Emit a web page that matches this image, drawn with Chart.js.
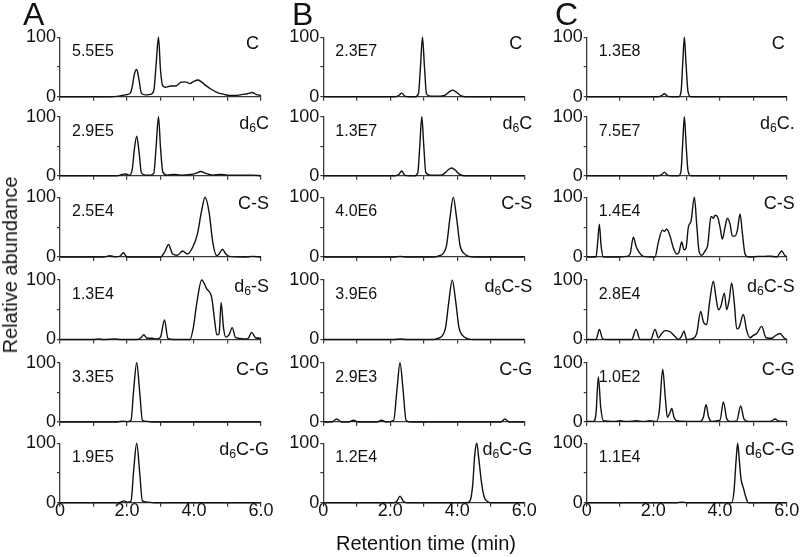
<!DOCTYPE html>
<html><head><meta charset="utf-8">
<script src="https://cdn.jsdelivr.net/npm/chart.js@4.4.1/dist/chart.umd.min.js"></script>
<style>
html,body{margin:0;padding:0;background:#fff;}
#wrap{position:relative;width:800px;height:557px;overflow:hidden;background:#fff;font-family:"Liberation Sans",Arial,sans-serif;color:#111;}
#wrap canvas{position:absolute;left:0;top:0;}
.t{position:absolute;white-space:nowrap;}
.t sub{font-size:0.68em;vertical-align:-0.28em;line-height:0;}
</style></head>
<body><div id="wrap"></div>
<script>
// ---------- data ----------
const columns = ['A','B','C'];
const rowLabels = [
  ['C','d<sub>6</sub>C','C-S','d<sub>6</sub>-S','C-G','d<sub>6</sub>C-G'],
  ['C','d<sub>6</sub>C','C-S','d<sub>6</sub>C-S','C-G','d<sub>6</sub>C-G'],
  ['C','d<sub>6</sub>C.','C-S','d<sub>6</sub>C-S','C-G','d<sub>6</sub>C-G']
];
const intensities = [
  ['5.5E5','2.9E5','2.5E4','1.3E4','3.3E5','1.9E5'],
  ['2.3E7','1.3E7','4.0E6','3.9E6','2.9E3','1.2E4'],
  ['1.3E8','7.5E7','1.4E4','2.8E4','1.0E2','1.1E4']
];
const xTickVals = [0, 2, 4, 6];
const xTickText = ['0', '2.0', '4.0', '6.0'];
const yTickVals = [0, 100];
const yTickText = ['0', '100'];

// traces: [retention time (min), relative abundance]
const A_C = [[0,0],[1.5,0],[1.75,1],[1.95,3],[2.1,6],[2.16,18],[2.22,38],[2.29,46],[2.36,28],[2.43,6],[2.55,3],[2.7,4],[2.8,10],[2.87,55],[2.94,100],[3.0,45],[3.07,18],[3.15,16],[3.3,18],[3.45,18],[3.6,24],[3.72,25],[3.8,24],[3.88,22],[3.97,25],[4.12,28],[4.22,25],[4.35,19],[4.5,13],[4.7,7],[4.9,4],[5.05,2],[5.25,2],[5.45,4],[5.6,5],[5.74,7],[5.85,4],[6.0,2]];
const A_d6C = [[0,0],[1.7,0],[1.85,2],[1.96,3],[2.08,1],[2.16,12],[2.22,45],[2.29,67],[2.36,40],[2.43,5],[2.55,1],[2.7,1],[2.8,4],[2.87,50],[2.94,100],[3.0,48],[3.07,6],[3.2,1],[3.4,2],[3.6,1],[3.9,2],[4.05,4],[4.2,7],[4.35,4],[4.55,1],[4.8,2],[5.0,1],[5.3,1],[5.5,1],[5.75,1],[6.0,0]];
const A_CS = [[0,0],[1.3,0],[1.49,2],[1.62,0.5],[1.78,1],[1.89,7],[2.0,0],[2.5,0],[3.0,0],[3.12,8],[3.24,21],[3.36,5],[3.5,3],[3.66,10],[3.8,5],[3.95,15],[4.1,38],[4.22,75],[4.33,100],[4.45,75],[4.56,25],[4.68,2],[4.76,6],[4.85,13],[4.95,5],[5.05,1],[5.5,0],[5.74,1],[6.0,0]];
const A_d6S = [[0,0],[1.0,0],[1.16,1],[1.3,0],[1.66,1],[1.8,0],[2.3,0],[2.42,3],[2.5,8],[2.6,2],[2.75,2],[2.9,1],[3.0,4],[3.12,33],[3.22,2],[3.4,0],[3.7,0],[3.88,0],[3.98,20],[4.08,60],[4.23,100],[4.38,85],[4.53,70],[4.62,30],[4.68,8],[4.75,10],[4.81,62],[4.88,20],[4.95,4],[5.05,8],[5.14,20],[5.24,3],[5.5,1],[5.62,2],[5.72,12],[5.84,3],[6.0,2]];
const A_CG = [[0,0],[1.7,0],[1.89,1.5],[2.0,0.5],[2.12,3],[2.2,55],[2.29,100],[2.38,50],[2.46,3],[2.6,1],[2.8,0],[6.0,0]];
const A_d6CG = [[0,0],[1.75,0],[1.91,3],[2.02,1],[2.12,3],[2.2,55],[2.29,100],[2.38,50],[2.46,3],[2.6,1],[2.8,0],[6.0,0]];

const B_C = [[0,0],[2.15,0],[2.25,2],[2.34,6],[2.43,1],[2.55,0],[2.75,0],[2.84,5],[2.9,50],[2.96,100],[3.02,50],[3.08,5],[3.2,1],[3.5,1],[3.65,3],[3.76,8],[3.86,11],[3.96,8],[4.1,2],[4.25,0],[6.0,0]];
const B_d6C = [[0,0],[2.15,0],[2.25,2],[2.34,8],[2.43,1],[2.55,0],[2.74,0],[2.82,5],[2.88,50],[2.94,100],[3.0,50],[3.06,5],[3.2,1],[3.5,1],[3.62,4],[3.73,10],[3.83,13],[3.93,10],[4.05,3],[4.2,0],[6.0,0]];
const B_CS = [[0,0],[2.1,0],[2.29,1],[2.5,0],[3.3,0],[3.45,2],[3.58,6],[3.68,20],[3.78,65],[3.88,100],[3.98,65],[4.08,20],[4.2,6],[4.35,1],[4.5,0],[6.0,0]];
const B_d6CS = [[0,0],[2.1,0],[2.29,1],[2.5,0],[3.3,0],[3.42,2],[3.55,6],[3.65,20],[3.75,65],[3.85,100],[3.95,65],[4.05,20],[4.17,6],[4.32,1],[4.5,0],[6.0,0]];
const B_CG = [[0,0],[0.25,0],[0.4,5],[0.55,0],[0.75,0],[0.9,3],[1.05,0],[1.6,0],[1.74,3],[1.88,0],[2.1,3],[2.2,55],[2.29,100],[2.38,55],[2.47,3],[2.6,0],[4.5,0],[5.3,0],[5.42,5],[5.55,0],[6.0,0]];
const B_d6CG = [[0,0],[2.1,0],[2.2,3],[2.29,11],[2.38,3],[2.5,0],[4.3,0],[4.38,3],[4.46,30],[4.52,80],[4.58,100],[4.64,75],[4.72,35],[4.8,10],[4.9,2],[5.0,0],[6.0,0]];

const C_C = [[0,0],[2.15,0],[2.25,2],[2.33,5],[2.42,1],[2.55,0],[2.76,0],[2.83,8],[2.88,55],[2.93,100],[2.98,55],[3.04,8],[3.12,0],[6.0,0]];
const C_d6C = [[0,0],[2.15,0],[2.25,2],[2.33,6],[2.42,1],[2.55,0],[2.76,0],[2.83,8],[2.88,55],[2.93,100],[2.98,55],[3.04,8],[3.12,0],[6.0,0]];
const C_CS = [[0,0],[0.28,0],[0.33,25],[0.38,55],[0.43,20],[0.5,0],[0.9,0],[1.2,1],[1.3,5],[1.4,33],[1.48,18],[1.57,8],[1.7,1],[2.05,0],[2.15,25],[2.27,45],[2.33,43],[2.4,47],[2.5,35],[2.6,15],[2.7,5],[2.77,8],[2.85,25],[2.92,12],[2.98,15],[3.05,50],[3.13,60],[3.23,100],[3.3,55],[3.37,10],[3.45,3],[3.55,10],[3.63,20],[3.73,68],[3.8,65],[3.85,70],[3.92,68],[4.0,50],[4.07,30],[4.15,50],[4.22,65],[4.3,55],[4.37,35],[4.45,35],[4.52,45],[4.6,72],[4.67,40],[4.75,5],[4.85,0],[5.15,1],[5.35,1],[5.5,1.5],[5.7,0],[5.85,10],[5.95,2],[6.0,1]];
const C_d6CS = [[0,0],[0.28,0],[0.38,17],[0.48,1],[0.6,0],[1.35,0],[1.48,17],[1.6,0],[1.92,0],[2.05,17],[2.15,3],[2.25,10],[2.35,15],[2.5,13],[2.65,5],[2.75,0],[2.84,5],[2.92,14],[3.0,0],[3.2,2],[3.3,10],[3.42,47],[3.5,30],[3.6,25],[3.68,60],[3.8,98],[3.88,70],[3.95,50],[4.02,55],[4.13,78],[4.2,50],[4.27,65],[4.35,95],[4.43,60],[4.5,18],[4.57,20],[4.7,42],[4.8,15],[4.9,3],[5.0,7],[5.1,10],[5.25,22],[5.38,3],[5.55,2],[5.65,6],[5.8,10],[5.93,2],[6.0,0]];
const C_CG = [[0,1],[0.2,1],[0.28,15],[0.35,76],[0.42,25],[0.5,2],[0.8,1],[1.0,2],[1.2,1],[1.5,2],[1.7,1],[1.9,2],[2.1,1],[2.18,20],[2.28,89],[2.36,40],[2.42,8],[2.5,16],[2.55,23],[2.62,8],[2.7,2],[3.0,1],[3.4,1],[3.5,8],[3.58,29],[3.66,8],[3.75,1],[4.0,3],[4.1,34],[4.2,6],[4.3,1],[4.5,2],[4.62,27],[4.72,5],[4.85,1],[5.4,1],[5.55,2],[5.65,5],[5.75,2],[6.0,1]];
const C_d6CG = [[0,0],[2.7,0],[2.85,1],[3.0,0],[4.35,0],[4.42,20],[4.48,70],[4.53,100],[4.58,70],[4.63,40],[4.7,25],[4.77,10],[4.85,0],[6.0,0]];

const traces = [
  [A_C, A_d6C, A_CS, A_d6S, A_CG, A_d6CG],
  [B_C, B_d6C, B_CS, B_d6CS, B_CG, B_d6CG],
  [C_C, C_d6C, C_CS, C_d6CS, C_CG, C_d6CG]
];

// ---------- layout ----------
const W = 800, H = 557;
const colL = [60, 323.3, 586.7], colR = [261, 524.3, 786.7];
const rowT = [37.3, 116.7, 197.3, 280, 362.7, 443.3];
const rowB = [96.7, 175.7, 257, 339.5, 422, 502.7];
const YW = 40, XH = 30;
const FONT = '"Liberation Sans", Arial, sans-serif';
const AX = '#3a3a3a';
const wrap = document.getElementById('wrap');

function addText(html, style) {
  const d = document.createElement('div');
  d.className = 't';
  d.innerHTML = html;
  Object.assign(d.style, style);
  wrap.appendChild(d);
  return d;
}

for (let c = 0; c < 3; c++) {
  for (let r = 0; r < 6; r++) {
    const cv = document.createElement('canvas');
    cv.width = W; cv.height = H;
    cv.style.width = W + 'px'; cv.style.height = H + 'px';
    wrap.appendChild(cv);
    const bottom = (r === 5);
    const pts = traces[c][r].map(p => ({x: p[0], y: p[1]}));
    new Chart(cv, {
      type: 'line',
      data: { datasets: [{ data: pts, borderColor: '#111', borderWidth: 1.4, pointRadius: 0,
        cubicInterpolationMode: 'monotone', fill: false, clip: 6 }] },
      options: {
        responsive: false, animation: false, devicePixelRatio: 1,
        events: [],
        layout: { padding: { left: colL[c] - YW, right: W - colR[c], top: rowT[r], bottom: H - rowB[r] - XH } },
        plugins: { legend: { display: false }, tooltip: { enabled: false }, title: { display: false } },
        scales: {
          x: {
            type: 'linear', min: 0, max: 6,
            afterFit: s => { s.height = XH; },
            border: { display: true, color: AX, width: 1.3 },
            grid: { display: true, drawOnChartArea: false, drawTicks: true, tickLength: 4, color: AX, lineWidth: 1.2 },
            ticks: { stepSize: 1, autoSkip: false, maxRotation: 0, padding: -6, color: '#111',
              font: { family: FONT, size: 18 },
              callback: v => { if (!bottom) return ''; const i = xTickVals.indexOf(v); return i >= 0 ? xTickText[i] : ''; } }
          },
          y: {
            type: 'linear', min: 0, max: 100,
            afterFit: s => { s.width = YW; },
            border: { display: true, color: AX, width: 1.3 },
            grid: { display: true, drawOnChartArea: false, drawTicks: true, tickLength: 3, color: AX, lineWidth: 1.2 },
            ticks: { stepSize: 50, autoSkip: false, padding: 1, color: '#111',
              font: { family: FONT, size: 18 },
              callback: v => { const i = yTickVals.indexOf(v); return i >= 0 ? yTickText[i] : ''; } }
          }
        }
      }
    });
    // intensity label
    addText(intensities[c][r], { left: (colL[c] + 12) + 'px', top: (rowT[r] + 6) + 'px', fontSize: '16px', lineHeight: '16px' });
    // compound label (right aligned)
    const lab = rowLabels[c][r];
    const rEdge = (lab === 'C') ? colR[c] - 2 : colR[c] + 8;
    addText(lab, { right: (W - rEdge) + 'px', top: (rowT[r] - 3) + 'px', fontSize: '18px', lineHeight: '18px' });
  }
  addText(columns[c], { left: [23, 292, 555][c] + 'px', top: '-2px', fontSize: '32px', lineHeight: '32px' });
}

addText('Relative abundance', { left: '10px', top: '265px', fontSize: '20px', lineHeight: '20px',
  transform: 'translate(-50%,-50%) rotate(-90deg)' });
addText('Retention time (min)', { left: '426px', top: '543px', fontSize: '20px', lineHeight: '20px',
  transform: 'translate(-50%,-50%)' });
</script>
</body></html>
